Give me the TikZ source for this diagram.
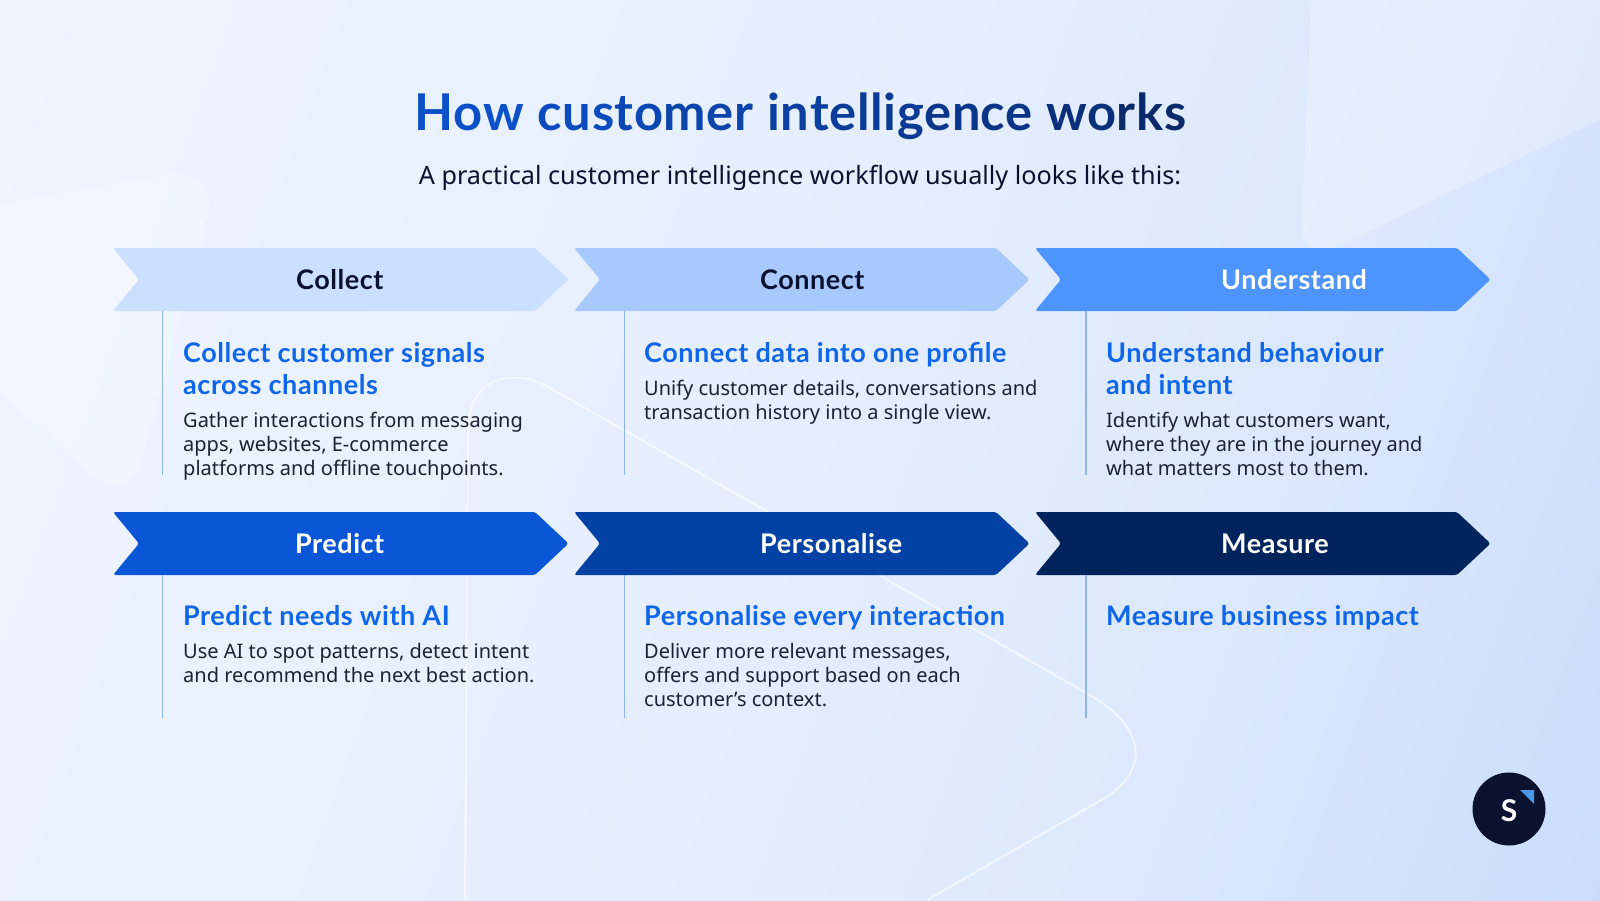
\documentclass[tikz,border=0pt]{standalone}
\usepackage{fontspec}
\setmainfont{Noto Sans}
\newfontfamily\headf{Lato}[LetterSpace=2.0]
\usetikzlibrary{calc,shadings}
\pgfdeclarehorizontalshading{bgshade}{100bp}{
  rgb(0bp)=(0.937,0.961,1);
  rgb(18bp)=(0.937,0.961,1);
  rgb(50bp)=(0.898,0.933,0.996);
  rgb(68bp)=(0.855,0.906,0.992);
  rgb(84bp)=(0.780,0.859,0.984);
  rgb(100bp)=(0.780,0.859,0.984)}
\definecolor{titleA}{HTML}{0B50C8}
\definecolor{titleE}{HTML}{0A2A6C}
\definecolor{head}{HTML}{0F66E9}
\definecolor{bodyc}{HTML}{1A2233}
\definecolor{ink}{HTML}{0B1230}
\definecolor{rulec}{HTML}{8DB6EE}
\definecolor{ch1}{HTML}{CBDFFE}
\definecolor{ch2}{HTML}{A8C9FE}
\definecolor{ch3}{HTML}{4D94FF}
\definecolor{ch4}{HTML}{0B56D6}
\definecolor{ch5}{HTML}{0342A4}
\definecolor{ch6}{HTML}{02245C}
\definecolor{logotri}{HTML}{4A97E8}
\tikzset{
  x=1pt,y=-1pt,
  chev/.style={draw=none,rounded corners=2.5pt},
  chevlab/.style={font=\headf\bfseries\fontsize{27}{30}\selectfont,anchor=base west,inner sep=0pt},
  subhead/.style={font=\headf\bfseries\fontsize{27}{31.5}\selectfont,text=head,anchor=base west,align=left,inner sep=0pt},
  desc/.style={font=\fontsize{20}{24}\selectfont,text=bodyc,anchor=base west,align=left,inner sep=0pt},
  vrule/.style={draw=rulec,line width=1.3pt},
  deco/.style={fill=white,fill opacity=.26,draw=none},
}
\newcommand{\stage}[6]{% x, y, colour, name, rule x, rule bottom y
  \path[chev,fill=#3] (#1,#2) -- ++(422,0) -- ++(33.5,31.5) -- ++(-33.5,31.5) -- ++(-422,0) -- ++(26,-31.5) -- cycle;
  \coordinate (#4a) at (#5,#2+63);
  \coordinate (#4b) at (#5,#6);
  \draw[vrule] (#4a) -- (#4b);
}
\newcommand{\tg}[2]{\textcolor{titleE!#1!titleA}{#2}}
\begin{document}
\begin{tikzpicture}
\useasboundingbox (0,0) rectangle (1600,900);
\shade[shading=bgshade,shading angle=-20] (0,0) rectangle (1600,900);
% decorative shapes
\path[deco,rounded corners=55pt] (-120,225) -- (222,165) -- (128,510) -- (-100,300) -- cycle;
\path[deco,rounded corners=40pt] (1314,-60) -- (1300,265) -- (1660,90) -- (1660,-60) -- cycle;
\draw[white,opacity=.6,line width=2pt] (465,900) -- (468,430) .. controls (468,380) and (510,365) .. (550,388) -- (1083,691) .. controls (1145,725) and (1150,765) .. (1110,795) -- (927,900);
% chevrons and rules
\stage{113}{248}{ch1}{c1}{162.5}{475}
\stage{574}{248}{ch2}{c2}{624.5}{475}
\stage{1035}{248}{ch3}{c3}{1086}{475}
\stage{113}{512}{ch4}{c4}{162.5}{718}
\stage{574}{512}{ch5}{c5}{624.5}{718}
\stage{1035}{512}{ch6}{c6}{1086}{718}
% title
\node[anchor=base,inner sep=0pt,font=\headf\bfseries\fontsize{50.7}{60}\selectfont] (title) at (800.5,130)
 {\tg{0}{How} \tg{12}{cus}\tg{22}{to}\tg{30}{mer} \tg{42}{int}\tg{50}{ell}\tg{58}{ig}\tg{66}{en}\tg{72}{ce} \tg{84}{wo}\tg{100}{rks}};
\node[anchor=base,inner sep=0pt,font=\fontsize{25.2}{30}\selectfont,text=ink] (subt) at (800,184.5) {A practical customer intelligence workflow usually looks like this:};
% labels
\node[chevlab,text=ink]   (l1) at (296,289) {Collect};
\node[chevlab,text=ink]   (l2) at (760,289) {Connect};
\node[chevlab,text=white] (l3) at (1221,289) {Understand};
\node[chevlab,text=white] (l4) at (295,553) {Predict};
\node[chevlab,text=white] (l5) at (760,553) {Personalise};
\node[chevlab,text=white] (l6) at (1221,553) {Measure};
% first row text (y = baseline of the last line)
\node[subhead] (h1) at (183,394) {Collect customer signals\\across channels};
\node[desc]    (d1) at (183,475) {Gather interactions from messaging\\apps, websites, E-commerce\\platforms and offline touchpoints.};
\node[subhead] (h2) at (644,362.5) {Connect data into one profile};
\node[desc]    (d2) at (644,419) {Unify customer details, conversations and\\transaction history into a single view.};
\node[subhead] (h3) at (1106,394) {Understand behaviour\\and intent};
\node[desc]    (d3) at (1106,475) {Identify what customers want,\\where they are in the journey and\\what matters most to them.};
% second row text
\node[subhead] (h4) at (183,625.5) {Predict needs with AI};
\node[desc]    (d4) at (183,682) {Use AI to spot patterns, detect intent\\and recommend the next best action.};
\node[subhead] (h5) at (644,625.5) {Personalise every interaction};
\node[desc]    (d5) at (644,706) {Deliver more relevant messages,\\offers and support based on each\\customer’s context.};
\node[subhead] (h6) at (1106,625.5) {Measure business impact};
% logo
\fill[ink] (1509,809) circle (36.5);
\fill[logotri] (1520,790) -- (1534,790) -- (1534,804) -- cycle;
\node[anchor=base,inner sep=0pt,text=white,font=\headf\bfseries\fontsize{30}{36}\selectfont] (logo) at (1509,821) {S};
\end{tikzpicture}
\end{document}
